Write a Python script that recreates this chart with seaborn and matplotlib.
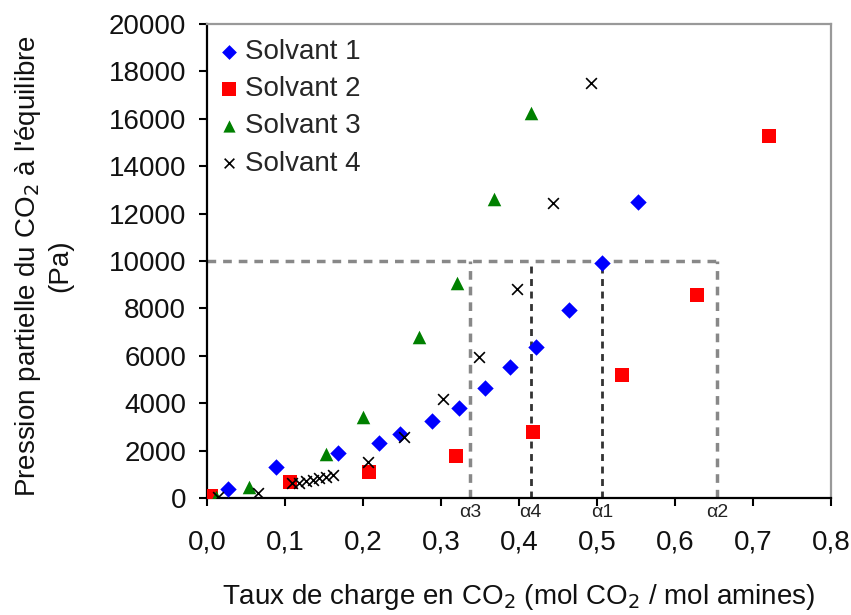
import matplotlib
matplotlib.use("Agg")
import matplotlib.pyplot as plt
import seaborn as sns
import pandas as pd

# ---- data ----
s1_x = [0.027, 0.088, 0.168, 0.220, 0.247, 0.288, 0.323, 0.356, 0.388, 0.422, 0.464, 0.506, 0.552]
s1_y = [390, 1310, 1900, 2340, 2700, 3270, 3780, 4640, 5520, 6360, 7940, 9920, 12490]

s2_x = [0.005, 0.107, 0.208, 0.319, 0.418, 0.532, 0.628, 0.720]
s2_y = [80, 690, 1090, 1780, 2800, 5200, 8570, 15280]

s3_x = [0.012, 0.054, 0.153, 0.200, 0.272, 0.321, 0.368, 0.415]
s3_y = [60, 450, 1850, 3400, 6800, 9080, 12600, 16240]

s4_x = [0.014, 0.066, 0.109, 0.118, 0.127, 0.136, 0.144, 0.153, 0.161,
        0.206, 0.253, 0.302, 0.349, 0.397, 0.444, 0.492]
s4_y = [40, 200, 620, 650, 700, 760, 830, 900, 980,
        1510, 2570, 4170, 5970, 8820, 12430, 17500]

series_names = ["Solvant 1", "Solvant 2", "Solvant 3", "Solvant 4"]

alpha_x = [0.337, 0.415, 0.507, 0.654]
alpha_labels = ["α3", "α4", "α1", "α2"]
threshold = 10000

xticks = [0.0, 0.1, 0.2, 0.3, 0.4, 0.5, 0.6, 0.7, 0.8]
xtick_labels = ["0,0", "0,1", "0,2", "0,3", "0,4", "0,5", "0,6", "0,7", "0,8"]
yticks = [0, 2000, 4000, 6000, 8000, 10000, 12000, 14000, 16000, 18000, 20000]
ytick_labels = ["0", "2000", "4000", "6000", "8000", "10000", "12000", "14000",
                "16000", "18000", "20000"]

# ---- build table ----
frames = []
for name, xs, ys in zip(series_names, [s1_x, s2_x, s3_x, s4_x], [s1_y, s2_y, s3_y, s4_y]):
    frames.append(pd.DataFrame({"x": xs, "y": ys, "Solvant": name}))
df = pd.concat(frames, ignore_index=True)

sns.set_theme(style="white")
plt.rcParams["font.family"] = ["Liberation Sans", "DejaVu Sans"]

fig = plt.figure(figsize=(8.51, 6.15), dpi=100)
ax = fig.add_axes([207 / 851, 1 - 498 / 615, 624 / 851, 474 / 615])

palette = {"Solvant 1": "#0000FF", "Solvant 2": "#FF0000", "Solvant 3": "#008000", "Solvant 4": "#000000"}
markers = {"Solvant 1": "D", "Solvant 2": "s", "Solvant 3": "^", "Solvant 4": "x"}
sizes = {"Solvant 1": 70, "Solvant 2": 115, "Solvant 3": 95, "Solvant 4": 60}

for name in series_names:
    sub = df[df["Solvant"] == name]
    sns.scatterplot(data=sub, x="x", y="y", ax=ax, color=palette[name], marker=markers[name],
                    s=sizes[name], linewidth=1.2 if name == "Solvant 4" else 0,
                    label=name, zorder=3)

# dashed reference lines
ax.plot([0, alpha_x[-1]], [threshold, threshold], ls=(0, (2.5, 2)), color="#888888", lw=2.5, zorder=2)
line_cols = ["#888888", "#333333", "#333333", "#888888"]
line_w = [2.5, 2.0, 2.0, 2.5]
for ax_x, lab, c, w in zip(alpha_x, alpha_labels, line_cols, line_w):
    ax.plot([ax_x, ax_x], [0, threshold], ls=(0, (2.5, 2)), color=c, lw=w, zorder=2)
    ax.text(ax_x, -600, lab, ha="center", va="center", fontsize=14, color="#222222")

ax.set_xlim(0, 0.8)
ax.set_ylim(0, 20000)
ax.set_xticks(xticks)
ax.set_xticklabels(xtick_labels)
ax.set_yticks(yticks)
ax.set_yticklabels(ytick_labels)
ax.tick_params(axis="both", which="both", direction="out", length=6, width=1.5,
               labelsize=20, colors="black", labelcolor="#111111")
ax.tick_params(axis="x", pad=17)
ax.tick_params(axis="y", pad=9)
ax.xaxis.set_ticks_position("bottom")
ax.yaxis.set_ticks_position("left")

for side in ["left", "bottom"]:
    ax.spines[side].set_color("black")
    ax.spines[side].set_linewidth(1.6)
for side in ["top", "right"]:
    ax.spines[side].set_color("#999999")
    ax.spines[side].set_linewidth(1.6)

ax.set_xlabel("Taux de charge en CO$_2$ (mol CO$_2$ / mol amines)", fontsize=20, color="#111111")
ax.set_ylabel("Pression partielle du CO$_2$ à l'équilibre\n(Pa)", fontsize=20, color="#111111")
ax.xaxis.set_label_coords(0.5, -0.178)
ax.yaxis.set_label_coords(-0.214, 0.49)

leg = ax.legend(loc="upper left", bbox_to_anchor=(-0.012, 1.0), frameon=False, fontsize=20,
                handletextpad=0.1, borderaxespad=0.15, labelspacing=0.4, handlelength=1.0,
                markerscale=0.9)

fig.savefig("out.png", dpi=100)
